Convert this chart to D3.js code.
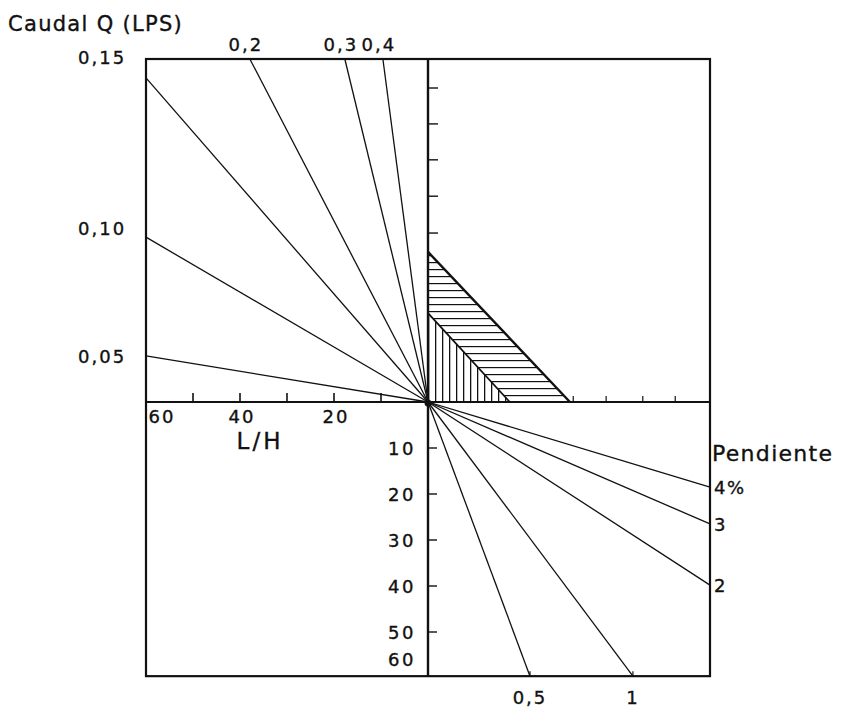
<!DOCTYPE html>
<html>
<head>
<meta charset="utf-8">
<script src="https://cdn.jsdelivr.net/npm/d3@7/dist/d3.min.js"></script>
<style>
  html, body { margin: 0; padding: 0; background: #fff; }
  svg text { font-family: "DejaVu Sans", sans-serif; fill: #111; stroke: #111; stroke-width: 0.35px; }
</style>
</head>
<body>
<svg id="chart" width="844" height="708"></svg>
<script>
(function () {
// ---------- data ----------
// L/H axis (top-left quadrant, grows to the left)
const lhTicks = [10, 20, 30, 40, 50];
const lhLabels = [60, 40, 20];
// Caudal Q rays (top-left): end point in (L/H, height units)
const qLabels = ["0,15", "0,10", "0,05", "0,2", "0,3", "0,4"];
const qEndLH  = [60, 60, 60, 37.9, 17.7, 9.6];
const qEndH   = [70.4, 35.8, 10.0, 74.5, 74.5, 74.5];
// top-right quadrant ticks
const hTicks = [36.7, 44.7, 52.6, 60.4, 68.2];
const rightTicks = [30.9, 37.9, 45.7, 52.6];
// shaded triangles (intercepts on vertical and horizontal axes)
const outerTri = [32.6, 30.2];
const innerTri = [19.3, 17.4];
// Pendiente rays (bottom-right): end point in (x units, depth units)
const slopeLabels = ["4%", "3", "2", "1", "0,5"];
const slopeEndX = [60, 60, 60, 43.6, 21.7];
const slopeEndD = [18.5, 26.5, 39.8, 59.6, 59.6];
// depth axis (bottom-right)
const depthTicks = [10, 20, 30, 40, 50];
const depthLabels = [10, 20, 30, 40, 50, 60];

// ---------- scales ----------
const x = d3.scaleLinear().domain([-60, 60]).range([146, 710]);
const yUp = d3.scaleLinear().domain([0, 74.5]).range([402, 59]);
const yDown = d3.scaleLinear().domain([0, 60]).range([402, 678]);

const svg = d3.select("#chart");
const X0 = x(0), Y0 = yUp(0);
const fL = x(-60), fR = x(60), fT = yUp(74.5), fB = yDown(59.6);

// ---------- hatch patterns ----------
const defs = svg.append("defs");
defs.append("pattern").attr("id", "hh").attr("patternUnits", "userSpaceOnUse")
  .attr("width", 8).attr("height", 7).attr("y", Y0)
  .append("line").attr("x1", 0).attr("x2", 8).attr("y1", 0.5).attr("y2", 0.5)
  .attr("stroke", "#111").attr("stroke-width", 1.4);
defs.append("pattern").attr("id", "vh").attr("patternUnits", "userSpaceOnUse")
  .attr("width", 7).attr("height", 8).attr("x", X0)
  .append("line").attr("x1", 0.5).attr("x2", 0.5).attr("y1", 0).attr("y2", 8)
  .attr("stroke", "#111").attr("stroke-width", 1.6);

// band between outer and inner triangle (horizontal hatching)
const bandPts = [
  [X0, yUp(outerTri[0])], [x(outerTri[1]), Y0], [x(innerTri[1]), Y0], [X0, yUp(innerTri[0])]
];
svg.append("path").attr("d", d3.line()(bandPts) + "Z").attr("fill", "url(#hh)");
const innerPts = [[X0, yUp(innerTri[0])], [x(innerTri[1]), Y0], [X0, Y0]];
svg.append("path").attr("d", d3.line()(innerPts) + "Z").attr("fill", "url(#vh)");
svg.append("line").attr("x1", X0).attr("y1", yUp(outerTri[0])).attr("x2", x(outerTri[1])).attr("y2", Y0)
  .attr("stroke", "#111").attr("stroke-width", 2.4);
svg.append("line").attr("x1", X0).attr("y1", yUp(innerTri[0])).attr("x2", x(innerTri[1])).attr("y2", Y0)
  .attr("stroke", "#111").attr("stroke-width", 1.8);

// ---------- rays ----------
qLabels.forEach((lab, i) => {
  svg.append("line").attr("x1", X0).attr("y1", Y0)
    .attr("x2", x(-qEndLH[i])).attr("y2", yUp(qEndH[i]))
    .attr("stroke", "#111").attr("stroke-width", 1.3);
});
slopeLabels.forEach((lab, i) => {
  svg.append("line").attr("x1", X0).attr("y1", Y0)
    .attr("x2", x(slopeEndX[i])).attr("y2", yDown(slopeEndD[i]))
    .attr("stroke", "#111").attr("stroke-width", 1.3);
});
svg.append("circle").attr("cx", X0).attr("cy", Y0 + 1).attr("r", 3.5).attr("fill", "#111");

// ---------- frame and axes ----------
svg.append("rect").attr("x", fL).attr("y", fT).attr("width", fR - fL).attr("height", fB - fT)
  .attr("fill", "none").attr("stroke", "#111").attr("stroke-width", 2.2);
svg.append("line").attr("x1", fL).attr("x2", fR).attr("y1", Y0).attr("y2", Y0)
  .attr("stroke", "#111").attr("stroke-width", 2.2);
svg.append("line").attr("x1", X0).attr("x2", X0).attr("y1", fT).attr("y2", fB)
  .attr("stroke", "#111").attr("stroke-width", 2.4);

// L/H ticks (upward)
svg.selectAll(".lht").data(lhTicks).join("line")
  .attr("x1", d => x(-d)).attr("x2", d => x(-d)).attr("y1", Y0).attr("y2", Y0 - 9)
  .attr("stroke", "#111").attr("stroke-width", 1.6);
// top-right vertical ticks
svg.selectAll(".ht").data(hTicks).join("line")
  .attr("x1", X0).attr("x2", X0 + 10).attr("y1", d => yUp(d)).attr("y2", d => yUp(d))
  .attr("stroke", "#111").attr("stroke-width", 1.4);
// top-right horizontal ticks
svg.selectAll(".rt").data(rightTicks).join("line")
  .attr("x1", d => x(d)).attr("x2", d => x(d)).attr("y1", Y0).attr("y2", Y0 - 6)
  .attr("stroke", "#111").attr("stroke-width", 1.2);
// depth ticks
svg.selectAll(".dt").data(depthTicks).join("line")
  .attr("x1", X0).attr("x2", X0 + 9).attr("y1", d => yDown(d)).attr("y2", d => yDown(d))
  .attr("stroke", "#111").attr("stroke-width", 1.4);
// small ticks at bottom ray ends
svg.selectAll(".bt").data(slopeEndX.filter(v => v < 60)).join("line")
  .attr("x1", d => x(d)).attr("x2", d => x(d)).attr("y1", fB).attr("y2", fB - 5)
  .attr("stroke", "#111").attr("stroke-width", 1.2);

// ---------- text ----------
function txt(s, px, py, size, anchor, ls) {
  return svg.append("text").attr("x", px).attr("y", py).attr("font-size", size)
    .attr("text-anchor", anchor || "start").attr("letter-spacing", ls == null ? 1 : ls).text(s);
}
txt("Caudal Q (LPS)", 8, 31, 21, "start", 1.3);
// Q labels
qLabels.forEach((lab, i) => {
  if (qEndLH[i] === 60) {
    let yy = yUp(qEndH[i]);
    if (yy - fT < 30) yy = fT - 2;
    else if (qEndH[i] > 20) yy -= 9;
    txt(lab, 78, yy + 7, 18, "start", 2);
  } else {
    txt(lab, x(-qEndLH[i]) - 4, fT - 8, 18, "middle", 2);
  }
});
// L/H labels
lhLabels.forEach(v => {
  const px = v === 60 ? x(-v) + 16 : x(-v) + 2;
  txt(String(v), px, Y0 + 21, 18, "middle", 2);
});
txt("L/H", 260, Y0 + 47, 23, "middle", 3);
// depth labels
depthLabels.forEach(v => {
  const py = v === 60 ? yDown(v) - 19 : yDown(v);
  txt(String(v), X0 - 12, py + 7, 18, "end", 2.5);
});
// Pendiente
txt("Pendiente", fR + 2, yDown(12.8), 22, "start", 1.3);
slopeLabels.forEach((lab, i) => {
  if (slopeEndX[i] === 60) {
    txt(lab, fR + 4, yDown(slopeEndD[i]) + 7, 18, "start", 1.5);
  } else {
    txt(lab, x(slopeEndX[i]), fB + 28, 18, "middle", 2);
  }
});
})();
</script>
</body>
</html>
